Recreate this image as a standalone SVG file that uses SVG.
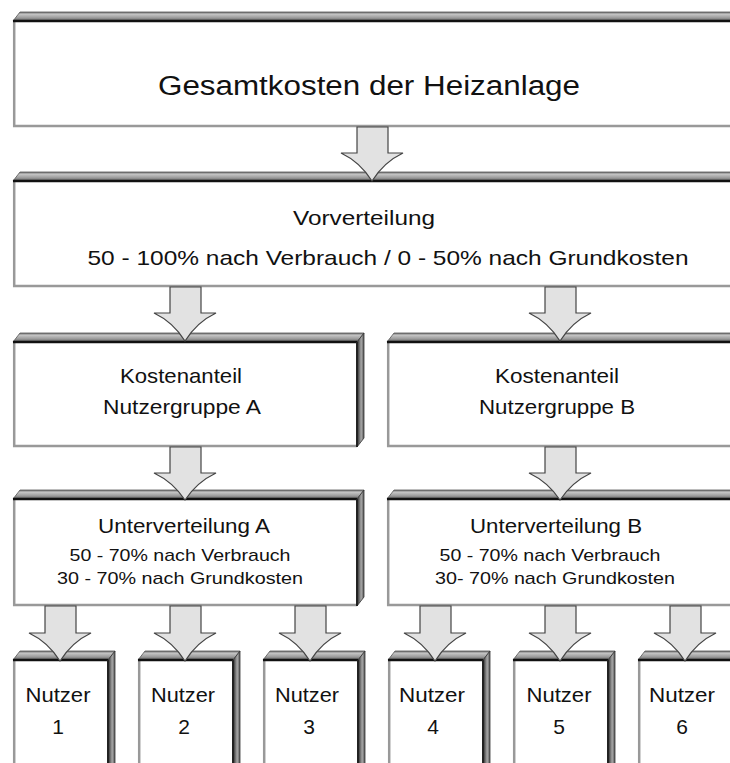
<svg xmlns="http://www.w3.org/2000/svg" width="730" height="763" viewBox="0 0 730 763">
<defs>
<linearGradient id="bev" x1="0" y1="0" x2="0" y2="1">
<stop offset="0" stop-color="#6a6a6a"/>
<stop offset="0.25" stop-color="#c4c4c4"/>
<stop offset="0.6" stop-color="#a0a0a0"/>
<stop offset="0.85" stop-color="#7a7a7a"/>
<stop offset="1" stop-color="#333"/>
</linearGradient>
<linearGradient id="side" x1="0" y1="0" x2="1" y2="0">
<stop offset="0" stop-color="#222"/>
<stop offset="0.3" stop-color="#666"/>
<stop offset="0.6" stop-color="#a8a8a8"/>
<stop offset="1" stop-color="#555"/>
</linearGradient>
</defs>
<style>
.bg{fill:#fff}
.bevel{fill:url(#bev);stroke:#555;stroke-width:0.8}
.side{fill:url(#side);stroke:#333;stroke-width:0.8}
.face{fill:#fff}
.lb{fill:none;stroke:#999;stroke-width:2.5}
.top{stroke:#111;stroke-width:2.5}
.rt{stroke:#222;stroke-width:2}
.arr{fill:#e2e2e2;stroke:#444;stroke-width:1.2;stroke-linejoin:miter}
text{font-family:"Liberation Sans",Arial,sans-serif;fill:#111;text-anchor:middle}
.t1{font-size:27px}
.t2{font-size:21px}
.t3{font-size:17px}
</style>
<rect class="bg" x="0" y="0" width="730" height="763"/>

<g id="n-gesamt">
<polygon class="bevel" points="13,21 20,12 740,12 740,21"/>
<rect class="face" x="13" y="21" width="727" height="106"/>
<path class="lb" d="M14.2,21 V126 H740"/>
<line class="top" x1="13" y1="21" x2="740" y2="21"/>
<text class="t1" x="369" y="95" textLength="422" lengthAdjust="spacingAndGlyphs">Gesamtkosten der Heizanlage</text>
</g>

<g id="n-vor">
<polygon class="bevel" points="13,181 20,172 740,172 740,181"/>
<rect class="face" x="13" y="181" width="727" height="106"/>
<path class="lb" d="M14.2,181 V286 H740"/>
<line class="top" x1="13" y1="181" x2="740" y2="181"/>
<text class="t2" x="364" y="225" textLength="142" lengthAdjust="spacingAndGlyphs">Vorverteilung</text>
<text class="t2" x="388" y="265" textLength="601" lengthAdjust="spacingAndGlyphs">50 - 100% nach Verbrauch / 0 - 50% nach Grundkosten</text>
</g>

<g id="n-ka">
<polygon class="bevel" points="13,342 20,333 364,333 357,342"/>
<polygon class="side" points="357,342 364,333 364,438 357,447"/>
<rect class="face" x="13" y="342" width="344" height="105"/>
<path class="lb" d="M14.2,342 V446 H357"/>
<line class="top" x1="13" y1="342" x2="357" y2="342"/>
<line class="rt" x1="357" y1="342" x2="357" y2="447"/>
<text class="t2" x="181" y="383" textLength="122" lengthAdjust="spacingAndGlyphs">Kostenanteil</text>
<text class="t2" x="182" y="414" textLength="158" lengthAdjust="spacingAndGlyphs">Nutzergruppe A</text>
</g>

<g id="n-kb">
<polygon class="bevel" points="387,342 394,333 740,333 740,342"/>
<rect class="face" x="387" y="342" width="353" height="105"/>
<path class="lb" d="M388.2,342 V446 H740"/>
<line class="top" x1="387" y1="342" x2="740" y2="342"/>
<text class="t2" x="557" y="383" textLength="124" lengthAdjust="spacingAndGlyphs">Kostenanteil</text>
<text class="t2" x="557" y="414" textLength="156" lengthAdjust="spacingAndGlyphs">Nutzergruppe B</text>
</g>

<g id="n-ua">
<polygon class="bevel" points="13,499 20,490 364,490 357,499"/>
<polygon class="side" points="357,499 364,490 364,597 357,606"/>
<rect class="face" x="13" y="499" width="344" height="107"/>
<path class="lb" d="M14.2,499 V605 H357"/>
<line class="top" x1="13" y1="499" x2="357" y2="499"/>
<line class="rt" x1="357" y1="499" x2="357" y2="606"/>
<text class="t2" x="184" y="533" textLength="172" lengthAdjust="spacingAndGlyphs">Unterverteilung A</text>
<text class="t3" x="180" y="561" textLength="221" lengthAdjust="spacingAndGlyphs">50 - 70% nach Verbrauch</text>
<text class="t3" x="180" y="584" textLength="246" lengthAdjust="spacingAndGlyphs">30 - 70% nach Grundkosten</text>
</g>

<g id="n-ub">
<polygon class="bevel" points="387,499 394,490 740,490 740,499"/>
<rect class="face" x="387" y="499" width="353" height="107"/>
<path class="lb" d="M388.2,499 V605 H740"/>
<line class="top" x1="387" y1="499" x2="740" y2="499"/>
<text class="t2" x="556" y="533" textLength="172" lengthAdjust="spacingAndGlyphs">Unterverteilung B</text>
<text class="t3" x="550" y="561" textLength="221" lengthAdjust="spacingAndGlyphs">50 - 70% nach Verbrauch</text>
<text class="t3" x="555" y="584" textLength="240" lengthAdjust="spacingAndGlyphs">30- 70% nach Grundkosten</text>
</g>

<g id="n-nutzer1">
<polygon class="bevel" points="13,660 20,651 115,651 108,660"/>
<polygon class="side" points="108,660 115,651 115,770 108,770"/>
<rect class="face" x="13" y="660" width="95" height="110"/>
<line class="lb" x1="14.2" y1="660" x2="14.2" y2="770"/>
<line class="top" x1="13" y1="660" x2="108" y2="660"/>
<line class="rt" x1="108" y1="660" x2="108" y2="770"/>
<text class="t2" x="58" y="702" textLength="65" lengthAdjust="spacingAndGlyphs">Nutzer</text>
<text class="t2" x="58" y="734">1</text>
</g>

<g id="n-nutzer2">
<polygon class="bevel" points="138,660 145,651 240,651 233,660"/>
<polygon class="side" points="233,660 240,651 240,770 233,770"/>
<rect class="face" x="138" y="660" width="95" height="110"/>
<line class="lb" x1="139.2" y1="660" x2="139.2" y2="770"/>
<line class="top" x1="138" y1="660" x2="233" y2="660"/>
<line class="rt" x1="233" y1="660" x2="233" y2="770"/>
<text class="t2" x="183" y="702" textLength="64" lengthAdjust="spacingAndGlyphs">Nutzer</text>
<text class="t2" x="184" y="734">2</text>
</g>

<g id="n-nutzer3">
<polygon class="bevel" points="263,660 270,651 365,651 358,660"/>
<polygon class="side" points="358,660 365,651 365,770 358,770"/>
<rect class="face" x="263" y="660" width="95" height="110"/>
<line class="lb" x1="264.2" y1="660" x2="264.2" y2="770"/>
<line class="top" x1="263" y1="660" x2="358" y2="660"/>
<line class="rt" x1="358" y1="660" x2="358" y2="770"/>
<text class="t2" x="307" y="702" textLength="64" lengthAdjust="spacingAndGlyphs">Nutzer</text>
<text class="t2" x="309" y="734">3</text>
</g>

<g id="n-nutzer4">
<polygon class="bevel" points="388,660 395,651 490,651 483,660"/>
<polygon class="side" points="483,660 490,651 490,770 483,770"/>
<rect class="face" x="388" y="660" width="95" height="110"/>
<line class="lb" x1="389.2" y1="660" x2="389.2" y2="770"/>
<line class="top" x1="388" y1="660" x2="483" y2="660"/>
<line class="rt" x1="483" y1="660" x2="483" y2="770"/>
<text class="t2" x="432" y="702" textLength="66" lengthAdjust="spacingAndGlyphs">Nutzer</text>
<text class="t2" x="433" y="734">4</text>
</g>

<g id="n-nutzer5">
<polygon class="bevel" points="513,660 520,651 615,651 608,660"/>
<polygon class="side" points="608,660 615,651 615,770 608,770"/>
<rect class="face" x="513" y="660" width="95" height="110"/>
<line class="lb" x1="514.2" y1="660" x2="514.2" y2="770"/>
<line class="top" x1="513" y1="660" x2="608" y2="660"/>
<line class="rt" x1="608" y1="660" x2="608" y2="770"/>
<text class="t2" x="559" y="702" textLength="65" lengthAdjust="spacingAndGlyphs">Nutzer</text>
<text class="t2" x="559" y="734">5</text>
</g>

<g id="n-nutzer6">
<polygon class="bevel" points="638,660 645,651 740,651 740,660"/>
<rect class="face" x="638" y="660" width="102" height="110"/>
<line class="lb" x1="639.2" y1="660" x2="639.2" y2="770"/>
<line class="top" x1="638" y1="660" x2="740" y2="660"/>
<text class="t2" x="682" y="702" textLength="66" lengthAdjust="spacingAndGlyphs">Nutzer</text>
<text class="t2" x="682" y="734">6</text>
</g>

<g id="connectors">
<path class="arr" d="M357,127 V153 H341 Q360,162 372,181 Q384,162 403,153 H388 V127 Z"/>
<path class="arr" d="M170,287 V313 H154 Q173,322 185,341 Q197,322 216,313 H201 V287 Z"/>
<path class="arr" d="M545,287 V313 H529 Q548,322 560,341 Q572,322 591,313 H576 V287 Z"/>
<path class="arr" d="M170,447 V473 H154 Q173,482 185,500 Q197,482 216,473 H201 V447 Z"/>
<path class="arr" d="M545,447 V473 H529 Q548,482 560,500 Q572,482 591,473 H576 V447 Z"/>
<path class="arr" d="M45,606 V633 H29 Q48,642 60,661 Q72,642 91,633 H76 V606 Z"/>
<path class="arr" d="M170,606 V633 H154 Q173,642 185,661 Q197,642 216,633 H201 V606 Z"/>
<path class="arr" d="M295,606 V633 H279 Q298,642 310,661 Q322,642 341,633 H326 V606 Z"/>
<path class="arr" d="M420,606 V633 H404 Q423,642 435,661 Q447,642 466,633 H451 V606 Z"/>
<path class="arr" d="M545,606 V633 H529 Q548,642 560,661 Q572,642 591,633 H576 V606 Z"/>
<path class="arr" d="M670,606 V633 H654 Q673,642 685,661 Q697,642 716,633 H701 V606 Z"/>
</g>
</svg>
